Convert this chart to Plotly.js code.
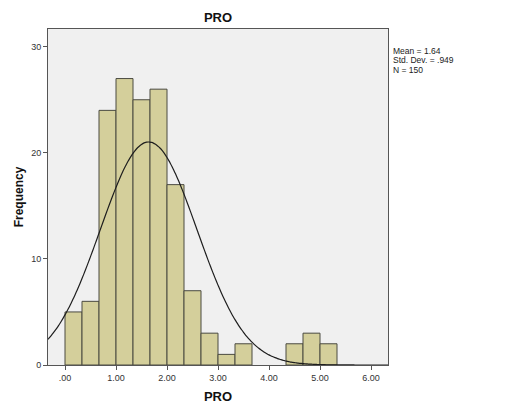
<!DOCTYPE html>
<html>
<head>
<meta charset="utf-8">
<script src="https://cdn.plot.ly/plotly-3.0.1.min.js"></script>
<style>html,body{margin:0;padding:0;background:#fff;}#chart{width:518px;height:415px;}</style>
</head>
<body>
<div id="chart"></div>
<script>
// Histogram bins (width 1/3) and frequencies
var binWidth = 1 / 3;
var binStarts = [0, 1/3, 2/3, 1, 4/3, 5/3, 2, 7/3, 8/3, 3, 10/3, 13/3, 14/3, 5];
var counts = [5, 6, 24, 27, 25, 26, 17, 7, 3, 1, 2, 2, 3, 2];

// Summary statistics shown on the chart
var mean = 1.64;
var sd = 0.949;
var n = 150;
var statLabels = ["Mean = 1.64", "Std. Dev. = .949", "N = 150"];

// Axis ticks
var xTickVals = [0, 1, 2, 3, 4, 5, 6];
var xTickText = [".00", "1.00", "2.00", "3.00", "4.00", "5.00", "6.00"];
var yTickVals = [0, 10, 20, 30];

var xMin = -1/3, xMax = 19/3;

var centers = binStarts.map(function (s) { return s + binWidth / 2; });

// normal curve implied by the shown mean / sd / N
var cx = [], cy = [];
var steps = 200;
for (var i = 0; i <= steps; i++) {
  var x = xMin + (xMax - xMin) * i / steps;
  var z = (x - mean) / sd;
  cx.push(x);
  cy.push(n * binWidth / (sd * Math.sqrt(2 * Math.PI)) * Math.exp(-0.5 * z * z));
}

var traces = [
  {
    type: 'bar', x: centers, y: counts, width: binWidth,
    marker: { color: '#D4CF9B', line: { color: '#4a4a40', width: 1 } },
    hoverinfo: 'skip'
  },
  {
    type: 'scatter', mode: 'lines', x: cx, y: cy,
    line: { color: '#1e1e1e', width: 1.2, shape: 'spline' },
    hoverinfo: 'skip'
  }
];

var annotations = statLabels.map(function (t, i) {
  return {
    xref: 'paper', yref: 'paper', x: 1.012, xanchor: 'left',
    y: 1 - (21.5 + 9.6 * i) / 336, yanchor: 'middle',
    text: t, showarrow: false, borderpad: 0,
    font: { family: 'Arial, Liberation Sans, sans-serif', size: 8.5, color: '#222' }
  };
});

var layout = {
  width: 518, height: 415,
  margin: { l: 48, r: 130, t: 29, b: 50, pad: 0 },
  paper_bgcolor: '#ffffff',
  plot_bgcolor: '#F0F0F0',
  showlegend: false,
  bargap: 0,
  title: {
    text: '<b>PRO</b>', x: 218 / 518, xanchor: 'center', y: 1 - 17 / 415, yanchor: 'middle',
    font: { family: 'Arial, Liberation Sans, sans-serif', size: 13, color: '#111' }
  },
  xaxis: {
    range: [xMin, xMax], tickmode: 'array', tickvals: xTickVals, ticktext: xTickText,
    showgrid: false, zeroline: false,
    showline: true, mirror: true, linecolor: '#555', linewidth: 1,
    ticks: 'outside', ticklen: 4, tickcolor: '#555',
    tickfont: { family: 'Arial, Liberation Sans, sans-serif', size: 9, color: '#333' },
    title: { text: '<b>PRO</b>', standoff: 10,
      font: { family: 'Arial, Liberation Sans, sans-serif', size: 13, color: '#111' } }
  },
  yaxis: {
    range: [0, 31.67], tickmode: 'array', tickvals: yTickVals,
    showgrid: false, zeroline: false,
    showline: true, mirror: true, linecolor: '#555', linewidth: 1,
    ticks: 'outside', ticklen: 4, tickcolor: '#555',
    tickfont: { family: 'Arial, Liberation Sans, sans-serif', size: 9, color: '#333' },
    title: { text: '<b>Frequency</b>', standoff: 4,
      font: { family: 'Arial, Liberation Sans, sans-serif', size: 12, color: '#111' } }
  },
  annotations: annotations
};

Plotly.newPlot('chart', traces, layout, { staticPlot: true, displayModeBar: false });
</script>
</body>
</html>
